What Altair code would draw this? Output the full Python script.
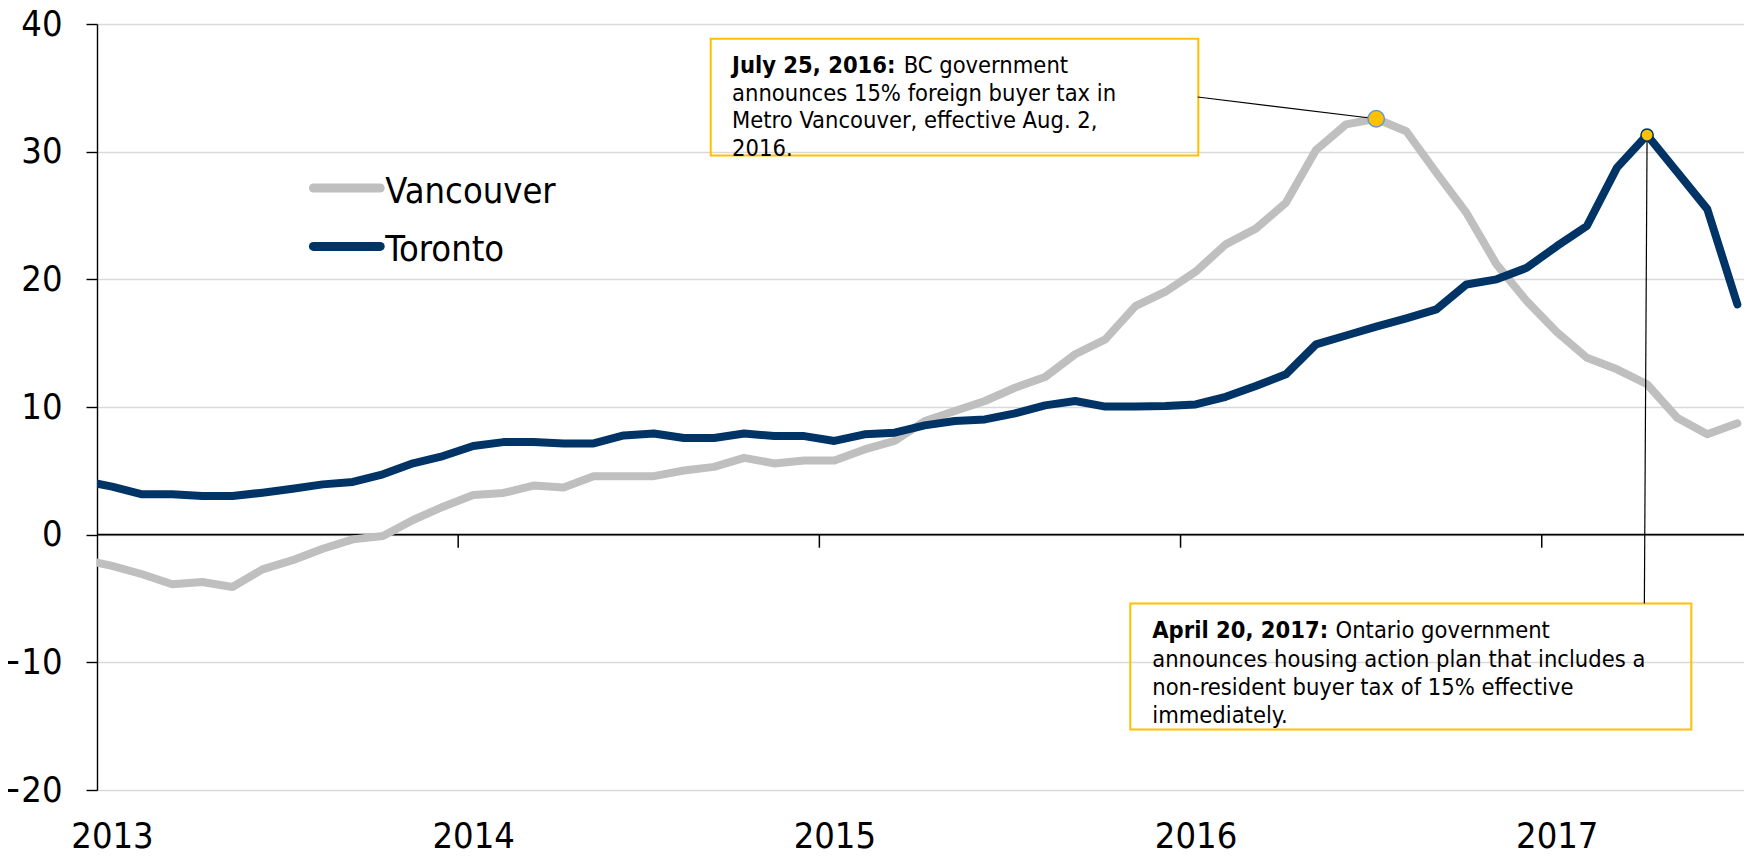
import altair as alt
import pandas as pd

FONT = "DejaVu Sans Condensed"
GRAY = "#BFBFBF"
NAVY = "#003366"
GOLD = "#FFC000"

# Monthly observations, Dec 2012 .. Jul 2017 (first point sits just left of the axis)
months = ["2012-12"] + [f"{y}-{m:02d}" for y in range(2013, 2018) for m in range(1, 13)][:55]
vancouver = [-1.93,
             -2.45, -3.1, -3.89, -3.71, -4.1, -2.72, -2.0, -1.1, -0.37, -0.1, 1.15, 2.19,
             3.1, 3.27, 3.85, 3.69, 4.58, 4.58, 4.58, 5.03, 5.31, 6.02, 5.58, 5.81,
             5.8, 6.68, 7.34, 8.9, 9.69, 10.47, 11.51, 12.35, 14.13, 15.3, 17.9, 19.03,
             20.6, 22.74, 23.97, 26.0, 30.13, 32.14, 32.58, 31.6, 28.35, 25.2, 21.17, 18.3,
             15.87, 13.86, 12.95, 11.78, 9.16, 7.86, 8.72]
toronto = [4.24,
           3.76, 3.16, 3.16, 3.03, 3.03, 3.29, 3.6, 3.94, 4.13, 4.73, 5.59, 6.16,
           6.95, 7.25, 7.25, 7.15, 7.15, 7.77, 7.93, 7.57, 7.57, 7.93, 7.72, 7.72,
           7.34, 7.86, 7.99, 8.56, 8.9, 9.03, 9.5, 10.13, 10.47, 10.03, 10.03, 10.08,
           10.2, 10.8, 11.64, 12.56, 14.9, 15.6, 16.3, 16.95, 17.65, 19.6, 20.0, 20.9,
           22.6, 24.18, 28.75, 31.3, 28.4, 25.5, 18.04]
years = ["2013", "2014", "2015", "2016", "2017"]
y_ticks = [-20, -10, 0, 10, 20, 30, 40]
cities = ["Vancouver", "Toronto"]

note1_bold = "July 25, 2016:"
note1_rest = "BC government"
note1_lines = ["announces 15% foreign buyer tax in", "Metro Vancouver, effective Aug. 2,", "2016."]
note2_bold = "April 20, 2017:"
note2_rest = "Ontario government"
note2_lines = ["announces housing action plan that includes a",
               "non-resident buyer tax of 15% effective", "immediately."]


def tpos(ym):
    y, m = map(int, ym.split("-"))
    return (y - 2013) * 12 + (m - 1) + 0.5


t = [tpos(m) for m in months]
df_v = pd.DataFrame({"t": t, "value": vancouver})
df_t = pd.DataFrame({"t": t, "value": toronto})
year_starts = [12 * i for i in range(len(years))]

xs = alt.Scale(domain=[0, 54.72], nice=False, zero=False)
ys = alt.Scale(domain=[-20, 40], nice=False, zero=False)

label_expr = "[" + ",".join(f"'{y}'" for y in years) + "][round(datum.value/12)]"
xaxis = alt.Axis(values=year_starts, labelExpr=label_expr, orient="bottom", domain=False,
                 ticks=False, tickSize=0, grid=False, labelFont=FONT, labelFontSize=36,
                 labelColor="black", labelPadding=29, labelOffset=15, labelAlign="center",
                 title=None)
yaxis = alt.Axis(values=y_ticks, orient="left", domain=True, domainColor="black",
                 domainWidth=1.4, ticks=True, tickColor="black", tickWidth=1.4, tickSize=11,
                 grid=True, gridColor="#D9D9D9", gridWidth=1.5, labelFont=FONT,
                 labelFontSize=36, labelColor="black", labelPadding=24, title=None)


def X(f):
    return alt.X(f, type="quantitative", scale=xs, axis=xaxis, title=None)


def Y(f):
    return alt.Y(f, type="quantitative", scale=ys, axis=yaxis, title=None)


zero = alt.Chart(pd.DataFrame({"v": [0]})).mark_rule(color="black", strokeWidth=1.8).encode(
    y=Y("v"))

ticks = alt.Chart(pd.DataFrame({"t": year_starts[1:], "y0": 0, "y1": -1.02})).mark_rule(
    color="black", strokeWidth=1.5).encode(x=X("t"), y=Y("y0"), y2="y1")

line_v = alt.Chart(df_v).mark_line(color=GRAY, strokeWidth=8, strokeJoin="round",
                                   strokeCap="round", clip=True).encode(x=X("t"), y=Y("value"))
line_t = alt.Chart(df_t).mark_line(color=NAVY, strokeWidth=8, strokeJoin="round",
                                   strokeCap="round", clip=True).encode(x=X("t"), y=Y("value"))

boxes = alt.Chart(pd.DataFrame({
    "x0": [20.39, 34.33], "x1": [36.59, 52.97], "y0": [38.84, -5.39], "y1": [29.70, -15.27]
})).mark_rect(fillOpacity=0, stroke=GOLD, strokeWidth=2).encode(
    x=X("x0"), x2="x1", y=Y("y0"), y2="y1")

connectors = alt.Chart(pd.DataFrame({
    "x0": [36.57, 51.5], "y0": [34.28, 31.3], "x1": [42.5, 51.41], "y1": [32.58, -5.39]
})).mark_rule(color="black", strokeWidth=1.2).encode(
    x=X("x0"), y=Y("y0"), x2="x1", y2="y1")

mark_v = alt.Chart(pd.DataFrame({"t": [t[months.index("2016-07")]],
                                 "v": [vancouver[months.index("2016-07")]]})).mark_circle(
    size=270, color=GOLD, opacity=1, stroke="#5B9BD5", strokeWidth=1.5).encode(
    x=X("t"), y=Y("v"))
mark_t = alt.Chart(pd.DataFrame({"t": [t[months.index("2017-04")]],
                                 "v": [toronto[months.index("2017-04")]]})).mark_circle(
    size=150, color=GOLD, opacity=1, stroke=NAVY, strokeWidth=1.5).encode(
    x=X("t"), y=Y("v"))


def text_at(x, y, text, bold=False, size=23.5, line_height=27.5):
    return alt.Chart(pd.DataFrame({"x": [x], "y": [y]})).mark_text(
        text=text, font=FONT, fontSize=size, fontWeight="bold" if bold else "normal",
        align="left", baseline="alphabetic", color="black", lineHeight=line_height).encode(
        x=X("x"), y=Y("y"))


notes = [
    text_at(21.1, 36.14, note1_bold, bold=True),
    text_at(26.8, 36.14, note1_rest),
    text_at(21.1, 33.97, note1_lines),
    text_at(35.06, -8.12, note2_bold, bold=True),
    text_at(41.15, -8.12, note2_rest),
    text_at(35.06, -10.37, note2_lines, line_height=28),
]

leg_rules = alt.Chart(pd.DataFrame({
    "city": cities, "x0": [7.19, 7.19], "x1": [9.41, 9.41], "y": [27.15, 22.58]
})).mark_rule(strokeWidth=9, strokeCap="round").encode(
    x=X("x0"), x2="x1", y=Y("y"),
    color=alt.Color("city:N", scale=alt.Scale(domain=cities, range=[GRAY, NAVY]), legend=None))
leg_text = alt.Chart(pd.DataFrame({
    "city": cities, "x": [9.58, 9.58], "y": [25.98, 21.4]
})).mark_text(font=FONT, fontSize=36, align="left", baseline="alphabetic", color="black").encode(
    x=X("x"), y=Y("y"), text="city:N")

chart = alt.layer(
    zero, ticks, line_v, line_t, boxes, connectors, mark_v, mark_t, *notes, leg_rules, leg_text
).properties(
    width=1647, height=766,
    padding={"left": 89, "top": 16, "right": 0, "bottom": 70},
    autosize=alt.AutoSizeParams(type="none"),
    background="white",
).configure_view(stroke=None)

chart.save("out.html", embed_options={"renderer": "svg", "actions": False})
